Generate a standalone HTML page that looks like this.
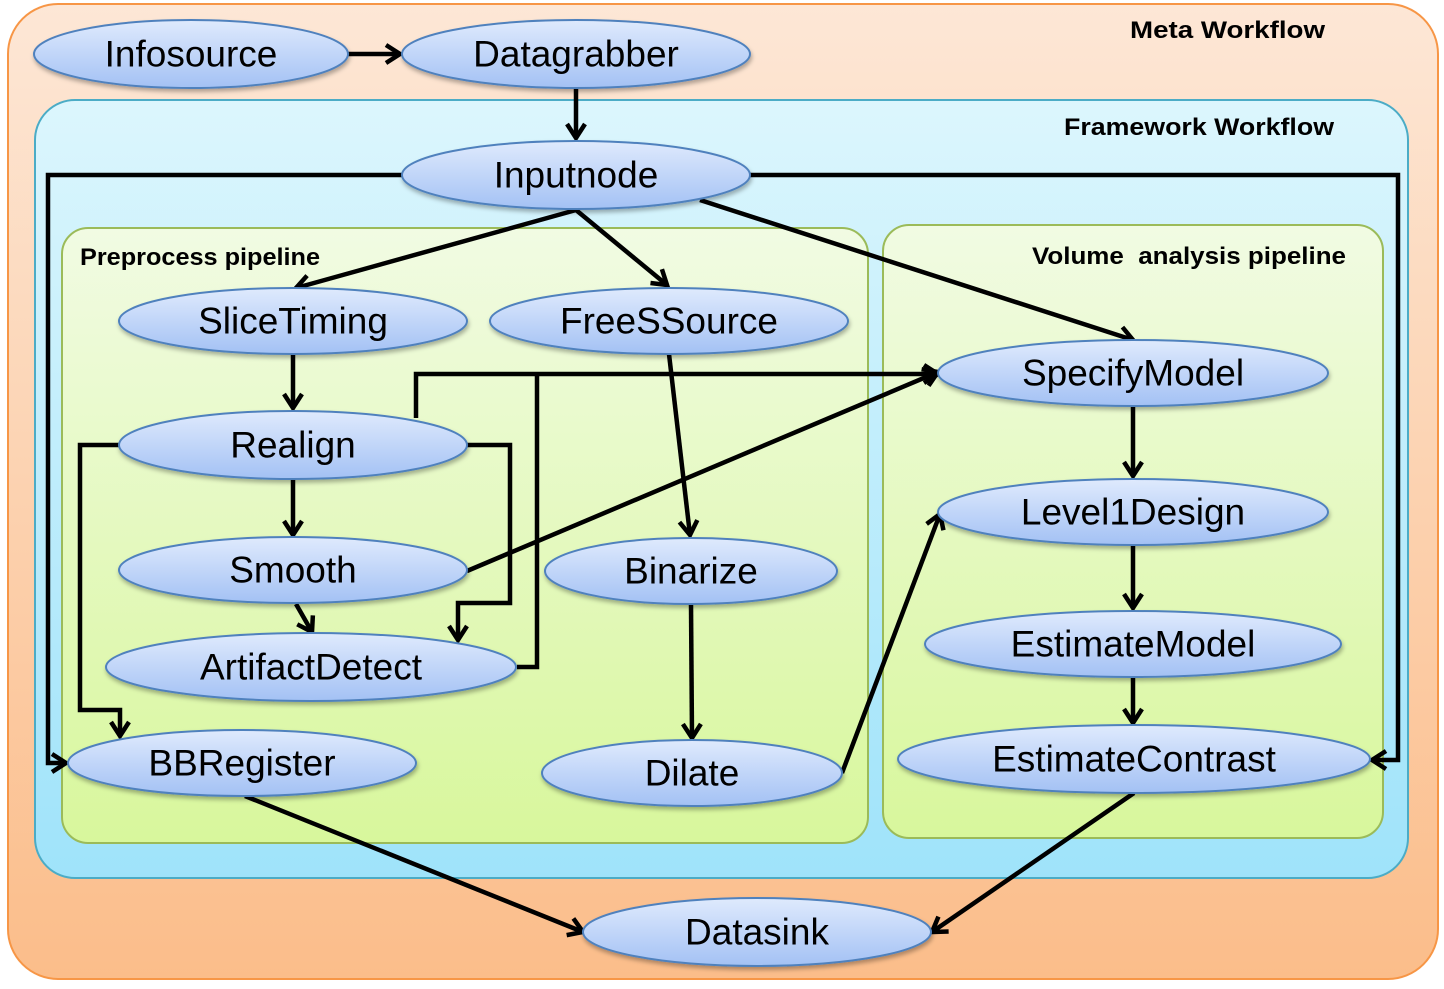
<!DOCTYPE html>
<html><head><meta charset="utf-8"><style>
html,body{margin:0;padding:0;background:#fff}
svg{display:block}
.n{font-family:"Liberation Sans",sans-serif;font-size:37px;fill:#000;text-anchor:middle;dominant-baseline:central}
.t{font-family:"Liberation Sans",sans-serif;font-size:24px;font-weight:bold;fill:#000}
.c{fill:none;stroke:#000;stroke-width:4.5;marker-end:url(#a)}
.e{fill:url(#ge);stroke:#4f81bd;stroke-width:2;filter:url(#sh)}
</style></head><body>
<svg width="1444" height="989" viewBox="0 0 1444 989" xmlns="http://www.w3.org/2000/svg">
<defs>
<linearGradient id="gm" x1="0" y1="0" x2="0" y2="1"><stop offset="0" stop-color="#fde7d6"/><stop offset="1" stop-color="#fbbd8a"/></linearGradient>
<linearGradient id="gf" x1="0" y1="0" x2="0" y2="1"><stop offset="0" stop-color="#dcf6fd"/><stop offset="1" stop-color="#9fe3fa"/></linearGradient>
<linearGradient id="gp" x1="0" y1="0" x2="0" y2="1"><stop offset="0" stop-color="#f1fbe3"/><stop offset="1" stop-color="#d8f79c"/></linearGradient>
<linearGradient id="ge" x1="0" y1="0" x2="0" y2="1"><stop offset="0" stop-color="#dfeafd"/><stop offset="1" stop-color="#a3c1f4"/></linearGradient>
<filter id="sh" x="-10%" y="-20%" width="120%" height="150%"><feDropShadow dx="1" dy="3" stdDeviation="2" flood-color="#000" flood-opacity="0.3"/></filter>
<marker id="a" markerUnits="userSpaceOnUse" markerWidth="24" markerHeight="24" viewBox="0 0 24 24" refX="20" refY="12" orient="auto"><path d="M6,3 L20,12 L6,21" fill="none" stroke="#000" stroke-width="4.5"/></marker>
</defs>
<rect x="8" y="4" width="1430" height="975" rx="50" fill="url(#gm)" stroke="#f79646" stroke-width="2"/>
<rect x="35" y="100" width="1373" height="778" rx="40" fill="url(#gf)" stroke="#4bacc6" stroke-width="2"/>
<rect x="62" y="228" width="806" height="615" rx="26" fill="url(#gp)" stroke="#9bbb59" stroke-width="2"/>
<rect x="883" y="225" width="500" height="613" rx="26" fill="url(#gp)" stroke="#9bbb59" stroke-width="2"/>
<text class="t" x="1130" y="38" textLength="195" lengthAdjust="spacingAndGlyphs">Meta Workflow</text>
<text class="t" x="1064" y="135" textLength="270" lengthAdjust="spacingAndGlyphs">Framework Workflow</text>
<text class="t" x="80" y="265" textLength="240" lengthAdjust="spacingAndGlyphs">Preprocess pipeline</text>
<text class="t" x="1032" y="264" textLength="314" lengthAdjust="spacingAndGlyphs" xml:space="preserve">Volume  analysis pipeline</text>

<g>
<path class="c" d="M348,54 H400"/>
<path class="c" d="M576,88 V138"/>
<path class="c" d="M403,175 H48 V763 H66"/>
<path class="c" d="M750,175 H1398 V760 H1372"/>
<path class="c" d="M576,210 L296,288"/>
<path class="c" d="M576,210 L667,285"/>
<path class="c" d="M700,200 L1133,340"/>
<path class="c" d="M293,354 V408"/>
<path class="c" d="M416,418 V374 H938"/>
<path fill="none" stroke="#000" stroke-width="4.5" d="M517,667 H537 V374"/>
<path class="c" d="M467,445 H510 V603 H458 V640"/>
<path class="c" d="M120,445 H80 V710 H120 V736"/>
<path class="c" d="M293,478 V535"/>
<path class="c" d="M296,604 L312,632"/>
<path class="c" d="M467,571 L938,372"/>
<path class="c" d="M669,354 L690,535"/>
<path class="c" d="M691,604 L692,738"/>
<path class="c" d="M842,773 L940,514"/>
<path class="c" d="M1133,406 V476"/>
<path class="c" d="M1133,546 V608"/>
<path class="c" d="M1133,678 V723"/>
<path class="c" d="M245,796 L583,932"/>
<path class="c" d="M1134,793 L932,932"/>
</g>

<ellipse class="e" cx="191" cy="54" rx="157" ry="34"/><text class="n" x="191" y="54">Infosource</text>
<ellipse class="e" cx="576" cy="54" rx="174" ry="34"/><text class="n" x="576" y="54">Datagrabber</text>
<ellipse class="e" cx="576" cy="175" rx="174" ry="34"/><text class="n" x="576" y="175">Inputnode</text>
<ellipse class="e" cx="293" cy="321" rx="174" ry="33"/><text class="n" x="293" y="321">SliceTiming</text>
<ellipse class="e" cx="669" cy="321" rx="179" ry="33"/><text class="n" x="669" y="321">FreeSSource</text>
<ellipse class="e" cx="1133" cy="373" rx="195" ry="33"/><text class="n" x="1133" y="373">SpecifyModel</text>
<ellipse class="e" cx="293" cy="445" rx="174" ry="34"/><text class="n" x="293" y="445">Realign</text>
<ellipse class="e" cx="293" cy="570" rx="174" ry="33"/><text class="n" x="293" y="570">Smooth</text>
<ellipse class="e" cx="691" cy="571" rx="146" ry="33"/><text class="n" x="691" y="571">Binarize</text>
<ellipse class="e" cx="1133" cy="512" rx="195" ry="33"/><text class="n" x="1133" y="512">Level1Design</text>
<ellipse class="e" cx="311" cy="667" rx="205" ry="34"/><text class="n" x="311" y="667">ArtifactDetect</text>
<ellipse class="e" cx="1133" cy="644" rx="208" ry="33"/><text class="n" x="1133" y="644">EstimateModel</text>
<ellipse class="e" cx="242" cy="763" rx="174" ry="33"/><text class="n" x="242" y="763">BBRegister</text>
<ellipse class="e" cx="692" cy="773" rx="150" ry="33"/><text class="n" x="692" y="773">Dilate</text>
<ellipse class="e" cx="1134" cy="759" rx="236" ry="34"/><text class="n" x="1134" y="759">EstimateContrast</text>
<ellipse class="e" cx="757" cy="932" rx="174" ry="34"/><text class="n" x="757" y="932">Datasink</text>
</svg>
</body></html>
